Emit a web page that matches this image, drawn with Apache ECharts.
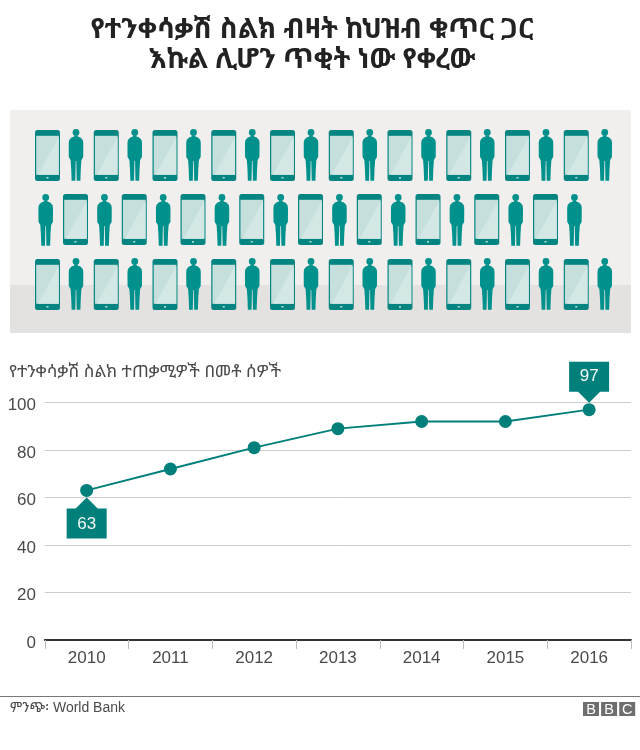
<!DOCTYPE html>
<html lang="am">
<head>
    <meta charset="UTF-8" />
    <title>የተንቀሳቃሽ ስልክ ብዛት</title>
    <script src="https://cdn.jsdelivr.net/npm/echarts@6/dist/echarts.min.js"></script>
    <style>
        html, body { margin: 0; padding: 0; background: #fff; }
    </style>
</head>
<body>
<div id="main" style="width: 640px;height: 750px;"></div>
<script type="text/javascript">
    var years = ['2010', '2011', '2012', '2013', '2014', '2015', '2016'];
    var users = [63, 72, 81, 89, 92, 92, 97];
    var calloutYears = [0, 6];
    var yTicks = { min: 0, max: 100, interval: 20 };

    var titleLines = ['የተንቀሳቃሽ ስልክ ብዛት ከህዝብ ቁጥር ጋር', 'እኩል ሊሆን ጥቂት ነው የቀረው'];
    var unitLabel = 'የተንቀሳቃሽ ስልክ ተጠቃሚዎች በመቶ ሰዎች';
    var sourceLabel = 'ምንጭ፡ World Bank';

    var TEAL = '#007f7b';
    var LATIN = '"Liberation Sans", Arial, sans-serif';
    var ETHIOPIC = '"Noto Sans Ethiopic", "Noto Sans", "DejaVu Sans", sans-serif';
    var TEXT = '#4a4a4a';

    // half of a standing figure, mirrored below
    var personHalf = [[1.4, 6.2], [1.8, 7.6], [4.5, 8.6], [6.8, 11], [7.3, 14], [7.2, 28], [5.4, 31], [4.8, 40], [4.4, 51.7], [0.7, 51.7], [0.3, 32]];

    function person(cx, top) {
        var pts = personHalf.map(function (p) { return [cx + p[0], top + p[1]]; });
        var back = personHalf.slice().reverse().map(function (p) { return [cx - p[0], top + p[1]]; });
        return [
            { type: 'polygon', shape: { points: pts.concat(back) }, style: { fill: '#00918d' } },
            { type: 'circle', shape: { cx: cx, cy: top + 3.4, r: 3.4 }, style: { fill: '#00918d' } }
        ];
    }

    function phone(x, top) {
        return [
            { type: 'rect', shape: { x: x, y: top, width: 25, height: 51, r: 2.5 }, style: { fill: '#058581' } },
            { type: 'rect', shape: { x: x + 1.2, y: top + 5.8, width: 22.6, height: 39 }, style: { fill: '#c5dfdd' } },
            { type: 'polygon', shape: { points: [[x + 3, top + 44.8], [x + 23.8, top + 44.8], [x + 23.8, top + 7]] }, style: { fill: '#d3e7e5' } },
            { type: 'rect', shape: { x: x + 11.5, y: top + 47.2, width: 2, height: 1.2 }, style: { fill: '#e8f4f3' } }
        ];
    }

    function illustration() {
        var out = [
            { type: 'rect', shape: { x: 10, y: 110, width: 621, height: 223 }, style: { fill: '#f1efed' } },
            { type: 'rect', shape: { x: 10, y: 285, width: 621, height: 48 }, style: { fill: '#e4e2e0' } }
        ];
        var step = 58.75;
        for (var i = 0; i < 10; i++) {
            out = out.concat(phone(35 + i * step, 130), person(76 + i * step, 129));
            out = out.concat(phone(35 + i * step, 259), person(76 + i * step, 258));
            out = out.concat(person(45.7 + i * step, 194));
            if (i < 9) out = out.concat(phone(63 + i * step, 194));
        }
        return out;
    }

    function bbcLogo() {
        var out = [];
        ['B', 'B', 'C'].forEach(function (letter, i) {
            var x = 583 + i * 18.1;
            out.push({ type: 'rect', shape: { x: x, y: 702, width: 16, height: 14 }, style: { fill: '#6e6e6e' } });
            out.push({ type: 'text', x: x + 8, y: 709.5, style: { text: letter, fill: '#fff', font: '14.5px ' + LATIN, textAlign: 'center', textVerticalAlign: 'middle' } });
        });
        return out;
    }

    var myChart = echarts.init(document.getElementById('main'));

    var option = {
        animation: false,
        title: {
            text: titleLines.join('\n'),
            left: 307,
            top: 10,
            textAlign: 'center',
            textStyle: { fontFamily: ETHIOPIC, fontWeight: 'bold', fontSize: 27.5, lineHeight: 30, color: '#222' }
        },
        grid: { left: 44.8, right: 9, top: 402.5, height: 237.5 },
        xAxis: {
            type: 'category',
            data: years,
            boundaryGap: true,
            axisLine: { lineStyle: { color: '#333', width: 2 } },
            axisTick: { show: true, length: 9, lineStyle: { color: '#bbb', width: 1 } },
            axisLabel: { fontFamily: LATIN, fontSize: 17, color: TEXT, margin: 10 }
        },
        yAxis: {
            type: 'value',
            min: yTicks.min,
            max: yTicks.max,
            interval: yTicks.interval,
            axisLine: { show: false },
            axisTick: { show: false },
            axisLabel: { fontFamily: LATIN, fontSize: 17, color: TEXT, margin: 8.8, verticalAlign: 'top', lineHeight: 6 },
            splitLine: { lineStyle: { color: '#ccc', width: 1 } }
        },
        series: [
            {
                type: 'line',
                data: users,
                symbol: 'circle',
                symbolSize: 13,
                lineStyle: { color: TEAL, width: 2 },
                itemStyle: { color: TEAL }
            },
            {
                type: 'custom',
                z: 5,
                data: calloutYears.map(function (i) { return [i, users[i]]; }),
                renderItem: function (params, api) {
                    var p = api.coord([api.value(0), api.value(1)]);
                    // first callout hangs under its point, the last one sits above
                    var dir = params.dataIndex === 0 ? 1 : -1;
                    var w = 20;
                    return {
                        type: 'group',
                        x: p[0],
                        y: p[1],
                        children: [
                            {
                                type: 'polygon',
                                shape: { points: [[0, 7 * dir], [11, 18 * dir], [w, 18 * dir], [w, 48 * dir], [-w, 48 * dir], [-w, 18 * dir], [-11, 18 * dir]] },
                                style: { fill: TEAL }
                            },
                            {
                                type: 'text',
                                x: 0,
                                y: 33.5 * dir,
                                style: { text: String(api.value(1)), fill: '#f0f8f8', font: '17px ' + LATIN, textAlign: 'center', textVerticalAlign: 'middle' }
                            }
                        ]
                    };
                }
            }
        ],
        graphic: illustration().concat([
            { type: 'text', x: 9, y: 372, style: { text: unitLabel, fill: TEXT, font: '17.2px ' + ETHIOPIC, textVerticalAlign: 'middle' } },
            { type: 'rect', shape: { x: 0, y: 696, width: 640, height: 1 }, style: { fill: '#777' } },
            { type: 'text', x: 10, y: 708, style: { text: sourceLabel, fill: TEXT, font: '14px ' + LATIN.replace('Arial', '"Noto Sans Ethiopic", Arial'), textVerticalAlign: 'middle' } }
        ], bbcLogo())
    };

    myChart.setOption(option);
</script>
</body>
</html>
